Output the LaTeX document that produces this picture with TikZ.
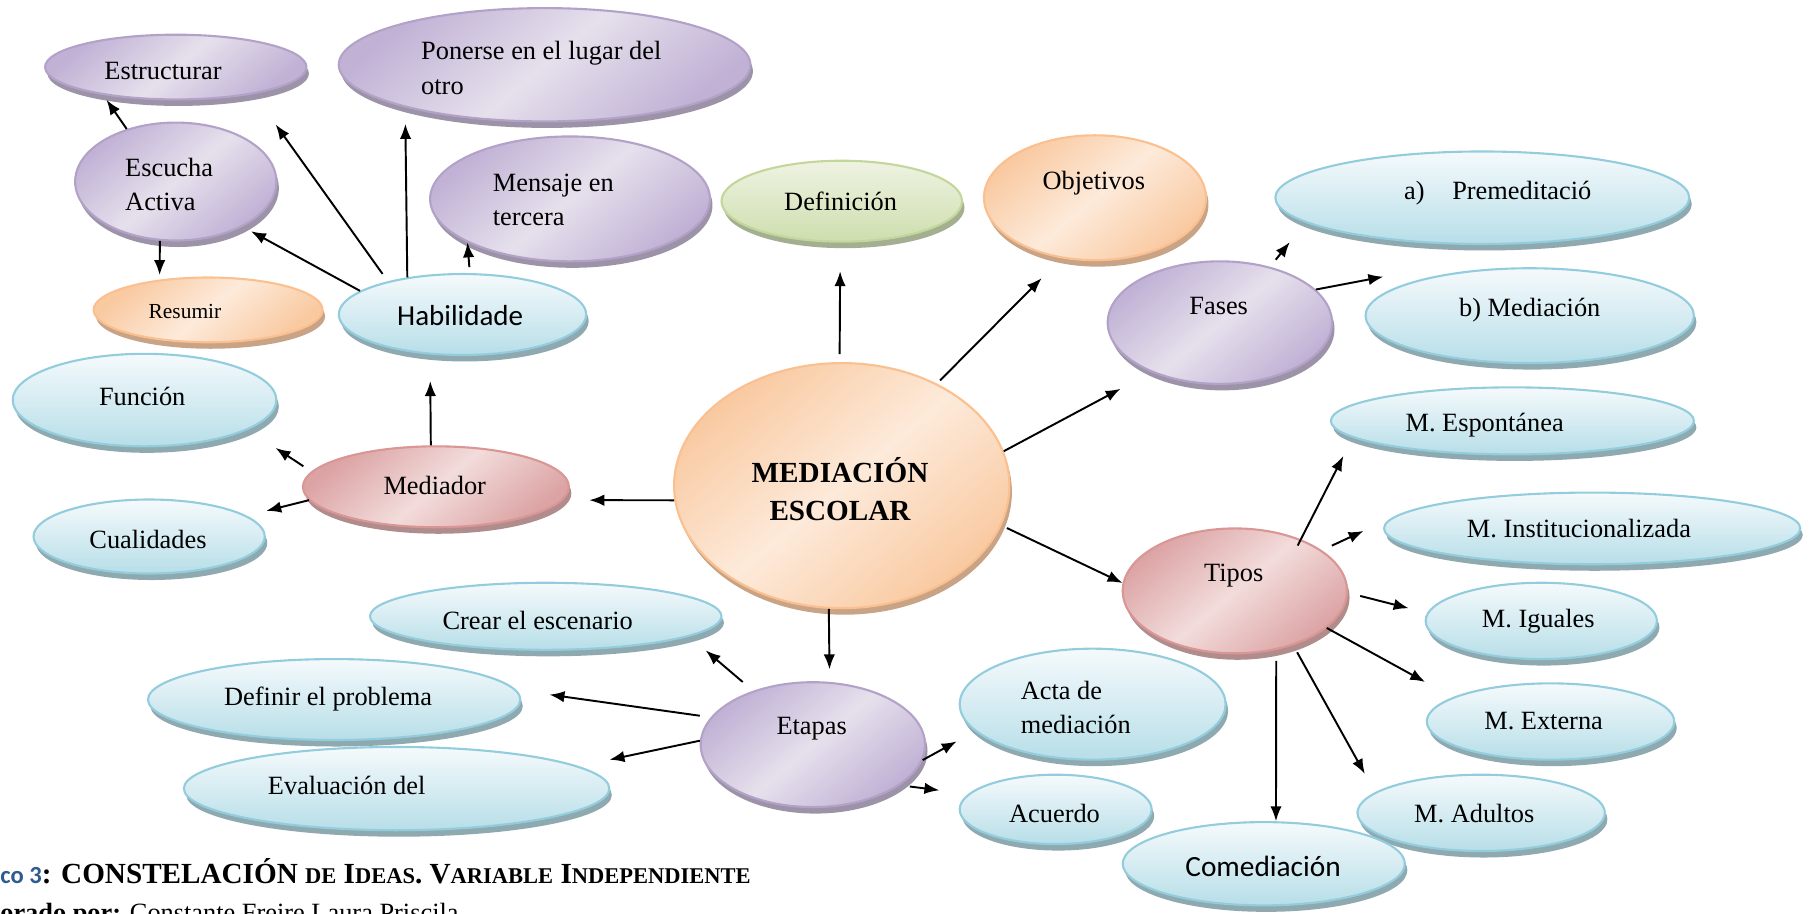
\documentclass[tikz,border=0pt]{standalone}
\usepackage{fontspec}
\setmainfont{Liberation Serif}
\newfontfamily\calibri{Carlito}
\usetikzlibrary{shapes.geometric,shadows,arrows.meta}

\definecolor{bluLine}{HTML}{93CDDD}
\definecolor{bluTop}{HTML}{F5FAFC}
\definecolor{bluBot}{HTML}{B7DEE8}
\definecolor{bluShd}{HTML}{8EA9B0}
\definecolor{purLine}{HTML}{B3A2C7}
\definecolor{purLight}{HTML}{E6E0EC}
\definecolor{purDark}{HTML}{C0B1D5}
\definecolor{purShd}{HTML}{9C93A8}
\definecolor{oraLine}{HTML}{FAC090}
\definecolor{oraLight}{HTML}{FDEADA}
\definecolor{oraDark}{HTML}{F9C9A0}
\definecolor{oraShd}{HTML}{C9A385}
\definecolor{redLine}{HTML}{D99694}
\definecolor{redLight}{HTML}{F2DCDB}
\definecolor{redDark}{HTML}{DCA3A4}
\definecolor{redShd}{HTML}{B08C8C}
\definecolor{grnLine}{HTML}{C3D69B}
\definecolor{grnLight}{HTML}{EEF3E2}
\definecolor{grnDark}{HTML}{CEDEAE}
\definecolor{grnShd}{HTML}{A4AE90}
\definecolor{capBlue}{HTML}{2E5C8F}

% small caps made by hand
\newcommand\fsc[1]{{\fontsize{12.8}{15}\selectfont #1}}

\tikzset{
  bub/.style={ellipse, line width=1.2pt, inner sep=0pt},
  sz/.style 2 args={minimum width=0.4625mm*#1, minimum height=0.4625mm*#2},
  blu/.style={bub, draw=bluLine, top color=bluTop, bottom color=bluBot,
    general shadow={fill=bluShd, shadow xshift=.5mm, shadow yshift=-1.3mm}},
  pur/.style={bub, draw=purLine, top color=purDark, bottom color=purDark,
    middle color=purLight, shading angle=40,
    general shadow={fill=purShd, shadow xshift=.5mm, shadow yshift=-1.3mm}},
  ora/.style={bub, draw=oraLine, top color=oraDark, bottom color=oraDark,
    middle color=oraLight, shading angle=40,
    general shadow={fill=oraShd, shadow xshift=.5mm, shadow yshift=-1.3mm}},
  red/.style={bub, draw=redLine, top color=redDark, bottom color=redDark,
    middle color=redLight, shading angle=40,
    general shadow={fill=redShd, shadow xshift=.5mm, shadow yshift=-1.3mm}},
  grn/.style={bub, draw=grnLine, top color=grnLight, bottom color=grnDark,
    general shadow={fill=grnShd, shadow xshift=.5mm, shadow yshift=-1.3mm}},
  lbl/.style={inner sep=0pt, font=\fontsize{15}{19.7}\selectfont},
  arr/.style={-{Latex[length=8.5pt,width=6.5pt]}, line width=1.1pt},
}

\begin{document}
\begin{tikzpicture}[x=0.23125mm, y=-0.23125mm]
  \useasboundingbox (0,0) rectangle (1568,790);

  % bubbles
  \node[pur, sz={113}{28}] (estr) at (152,58) {};
  \node[pur, sz={178}{49}] (pon) at (471,56) {};
  \node[pur, sz={87}{51}] (esc) at (152,157) {};
  \node[pur, sz={121}{54}] (mens) at (493,172) {};
  \node[grn, sz={104}{35}] (defi) at (728,174) {};
  \node[ora, sz={96}{54}] (obj) at (947,171) {};
  \node[blu, sz={179}{40}] (prem) at (1282,171) {};
  \node[pur, sz={97}{53}] (fases) at (1055,279) {};
  \node[blu, sz={142}{41}] (bmed) at (1323,273) {};
  \node[ora, sz={99}{28}] (res) at (180,268) {};
  \node[blu, sz={107}{35}] (hab) at (400,272) {};
  \node[blu, sz={114}{40}] (func) at (125,346) {};
  \node[blu, sz={157}{29}] (esp) at (1308,364) {};
  \node[ora, sz={145}{106}] (med) at (728,420) {};
  \node[red, sz={115}{35}] (mdr) at (377,421) {};
  \node[blu, sz={100}{32}] (cual) at (129,464) {};
  \node[blu, sz={180}{31}] (inst) at (1377,457) {};
  \node[red, sz={97}{54}] (tipos) at (1068,511) {};
  \node[blu, sz={152}{29}] (crear) at (472,533) {};
  \node[blu, sz={100}{33}] (igu) at (1333,537) {};
  \node[blu, sz={161}{35}] (defp) at (289,605) {};
  \node[pur, sz={97}{54}] (etap) at (703,644) {};
  \node[blu, sz={115}{48}] (acta) at (945,609) {};
  \node[blu, sz={107}{33}] (ext) at (1341,624) {};
  \node[blu, sz={184}{36}] (eval) at (343,682) {};
  \node[blu, sz={83}{30}] (acu) at (913,700) {};
  \node[blu, sz={107}{33}] (adul) at (1281,703) {};
  \node[blu, sz={122}{36}] (come) at (1093,747) {};

  % texts
  \node[lbl] (t-estr) at (141,61) {Estructurar};
  \node[lbl, align=left, anchor=west] (t-pon) at (364,59) {Ponerse en el lugar del\\otro};
  \node[lbl, align=left, anchor=west] (t-esc) at (108,159.5) {Escucha\\Activa};
  \node[lbl, align=left, anchor=west] (t-mens) at (426,173) {Mensaje en\\tercera};
  \node[lbl] (t-defi) at (727,174) {Definición};
  \node[lbl] (t-obj) at (946,158.6) {Objetivos};
  \node[lbl, anchor=west] (t-prem) at (1214,167) {a)\hspace{15.8pt}Premeditació};
  \node[lbl] (t-fases) at (1054,265) {Fases};
  \node[lbl] (t-bmed) at (1323,268) {b) Mediación};
  \node[lbl, font=\fontsize{12.2}{14}\selectfont] (t-res) at (160,269.6) {Resumir};
  \node[lbl, font=\calibri\fontsize{16.5}{19}\selectfont] (t-hab) at (398,272.5) {Habilidade};
  \node[lbl] (t-func) at (123,343) {Función};
  \node[lbl] (t-esp) at (1284,367.6) {M. Espontánea};
  \node[lbl, align=center, font=\bfseries\fontsize{16.6}{21.7}\selectfont] (t-med) at (726.5,423) {MEDIACIÓN\\ESCOLAR};
  \node[lbl] (t-mdr) at (376,420) {Mediador};
  \node[lbl] (t-cual) at (128,466.4) {Cualidades};
  \node[lbl] (t-inst) at (1365.6,456.8) {M. Institucionalizada};
  \node[lbl] (t-tipos) at (1067,498) {Tipos};
  \node[lbl] (t-crear) at (465,536.2) {Crear el escenario};
  \node[lbl] (t-igu) at (1330.4,537.6) {M. Iguales};
  \node[lbl] (t-defp) at (283.8,604.8) {Definir el problema};
  \node[lbl] (t-etap) at (702,629.9) {Etapas};
  \node[lbl, align=left, anchor=west] (t-acta) at (882.6,611.8) {Acta de\\mediación};
  \node[lbl] (t-ext) at (1335,624) {M. Externa};
  \node[lbl] (t-eval) at (299.8,679.5) {Evaluación del};
  \node[lbl] (t-acu) at (912,703.4) {Acuerdo};
  \node[lbl] (t-adul) at (1275,703.4) {M. Adultos};
  \node[lbl, font=\calibri\fontsize{16.7}{19}\selectfont] (t-come) at (1092.4,749.5) {Comediación};

  % connectors
  \coordinate (fb) at (1196.4,239.3);
  \draw[arr, shorten >=1.2mm] (esc.133) -- (estr.201);
  \draw[arr, shorten <=1.8mm, shorten >=7.5mm] (hab.156) -- (estr.-19);
  \draw[arr, shorten >=3.3mm] (hab.146) -- (pon.197);
  \draw[arr, shorten <=1.2mm] (hab.80) -- (mens.203);
  \draw[arr, shorten >=1.9mm] (hab.167) -- (esc.-34.5);
  \draw[arr, shorten >=0.9mm] (esc.255.5) -- (res.148);
  \draw[arr, shorten >=5.3mm] (mdr.97) -- (hab.231);
  \draw[arr, shorten <=1.9mm, shorten >=6.6mm] (mdr.173) -- (func.-16);
  \draw[arr, shorten >=4mm] (mdr.186) -- (cual.12);
  \draw[arr, shorten >=5.3mm] (med.185) -- (mdr.-6);
  \draw[arr, shorten <=1.6mm, shorten >=5.7mm] (med.91) -- (defi.268);
  \draw[arr, shorten <=0.9mm, shorten >=5.6mm] (med.47) -- (obj.241.7);
  \draw[arr, shorten >=7mm] (med.12) -- (fases.216);
  \draw[arr, shorten <=1.2mm] (med.-14.6) -- (tipos.176);
  \draw[arr, shorten >=2.5mm] (med.264) -- (etap.75);
  \draw[arr, shorten <=1.8mm, shorten >=5mm] (fases.48) -- (prem.188);
  \draw[arr] (fases.19) -- (fb);
  \draw[arr, shorten <=-1.4mm, shorten >=4.1mm] (tipos.38) -- (esp.186);
  \draw[arr, shorten <=2.2mm, shorten >=6.2mm] (tipos.25) -- (inst.177);
  \draw[arr, shorten <=2.5mm, shorten >=3.8mm] (tipos.-1) -- (igu.176);
  \draw[arr, shorten >=6.3mm] (tipos.-22) -- (ext.166);
  \draw[arr, shorten <=1.6mm, shorten >=4.2mm] (tipos.-43) -- (adul.169);
  \draw[arr, shorten <=2.2mm] (tipos.-55) -- (come.74);
  \draw[arr, shorten <=2.7mm, shorten >=4.3mm] (etap.138) -- (crear.-8);
  \draw[arr, shorten <=2.2mm, shorten >=6.7mm] (etap.165.5) -- (defp.3);
  \draw[arr, shorten >=6.3mm] (etap.178) -- (eval.7);
  \draw[arr, shorten >=4.2mm] (etap.-8) -- (acta.193.6);
  \draw[arr, shorten <=2mm, shorten >=5.8mm] (etap.-25.6) -- (acu.170);

  % caption
  \node[inner sep=0pt, anchor=base west, font=\bfseries\fontsize{16.6}{19}\selectfont] (cap1) at (0,764)
    {{\calibri\fontsize{14}{17}\selectfont\color{capBlue}co 3}: CONSTELACIÓN \fsc{DE} I\fsc{DEAS}. V\fsc{ARIABLE} I\fsc{NDEPENDIENTE}};
  \node[inner sep=0pt, anchor=base west, font=\fontsize{15}{17}\selectfont] (cap2) at (0,797)
    {\textbf{orado por:} Constante Freire Laura Priscila};
\end{tikzpicture}
\end{document}
